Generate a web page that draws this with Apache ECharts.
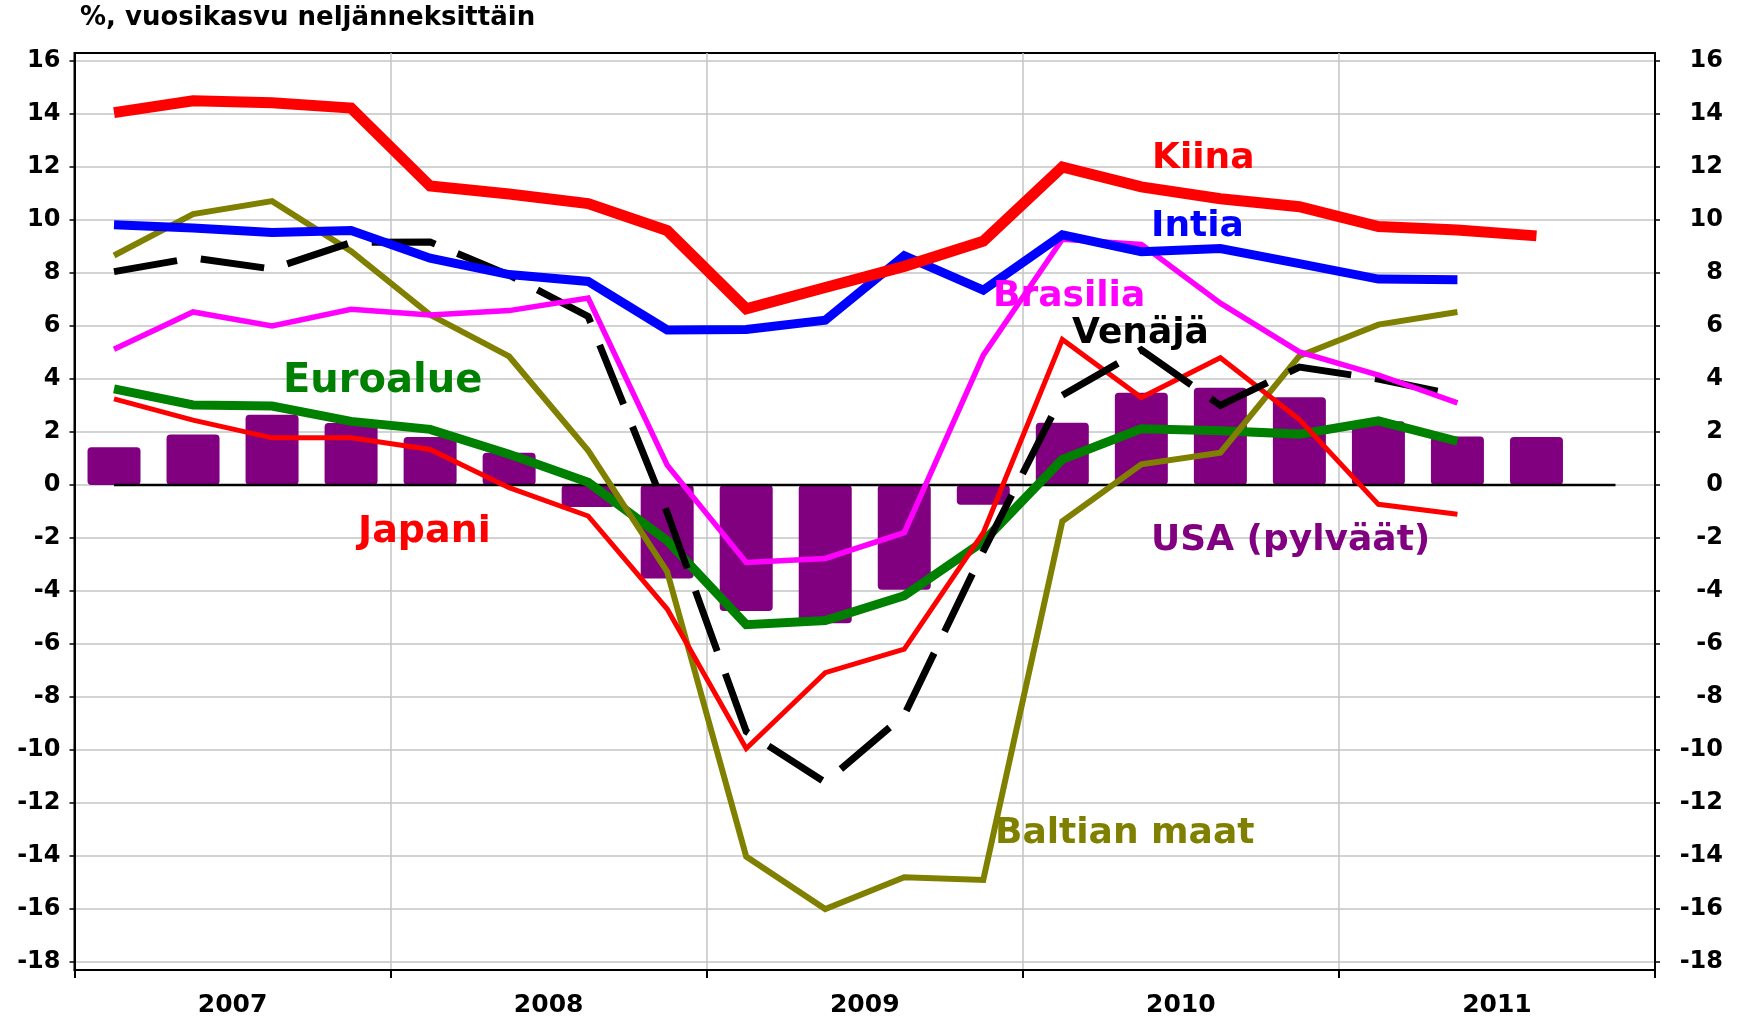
<!DOCTYPE html>
<html>
<head>
<meta charset="utf-8">
<script src="https://cdn.jsdelivr.net/npm/echarts@6/dist/echarts.min.js"></script>
<style>
  html, body { margin: 0; padding: 0; background: #fff; }
  #chart { width: 1741px; height: 1018px; }
</style>
</head>
<body>
<div id="chart"></div>
<script>
// neljännekset (x-akseli) ja vuosiotsikot
const quarters = [
  '2007Q1', '2007Q2', '2007Q3', '2007Q4',
  '2008Q1', '2008Q2', '2008Q3', '2008Q4',
  '2009Q1', '2009Q2', '2009Q3', '2009Q4',
  '2010Q1', '2010Q2', '2010Q3', '2010Q4',
  '2011Q1', '2011Q2', '2011Q3', '2011Q4'
]
const years = ['2007', '2008', '2009', '2010', '2011']
const yTicks = [-18, -16, -14, -12, -10, -8, -6, -4, -2, 0, 2, 4, 6, 8, 10, 12, 14, 16]

// sarjat, % vuosikasvu
const usa = [1.42, 1.91, 2.65, 2.34, 1.81, 1.22, -0.83, -3.53, -4.75, -5.22, -3.95, -0.75, 2.35, 3.48, 3.67, 3.31, 2.41, 1.83, 1.81]
const kiina = [14.05, 14.5, 14.42, 14.22, 11.28, 10.98, 10.62, 9.6, 6.65, 7.45, 8.25, 9.2, 12.0, 11.25, 10.8, 10.5, 9.75, 9.62, 9.4]
const intia = [9.82, 9.7, 9.53, 9.6, 8.56, 7.94, 7.68, 5.85, 5.87, 6.22, 8.65, 7.35, 9.44, 8.8, 8.92, 8.35, 7.77, 7.74]
const brasilia = [5.12, 6.53, 6.0, 6.63, 6.41, 6.58, 7.05, 0.75, -2.92, -2.77, -1.8, 4.9, 9.27, 9.08, 6.86, 5.02, 4.15, 3.1]
const venaja = [8.05, 8.57, 8.15, 9.15, 9.17, 7.92, 6.36, -1.05, -9.3, -11.22, -8.68, -2.5, 3.38, 5.1, 3.0, 4.45, 4.0, 3.38]
const euroalue = [3.63, 3.02, 2.98, 2.4, 2.1, 1.16, 0.1, -2.1, -5.27, -5.11, -4.18, -2.13, 0.97, 2.12, 2.05, 1.92, 2.42, 1.65]
const japani = [3.25, 2.45, 1.78, 1.78, 1.34, -0.1, -1.17, -4.68, -9.94, -7.08, -6.19, -1.8, 5.49, 3.3, 4.8, 2.47, -0.73, -1.1]
const baltia = [8.66, 10.22, 10.71, 8.82, 6.42, 4.85, 1.3, -3.27, -14.02, -16.0, -14.8, -14.9, -1.37, 0.78, 1.22, 4.87, 6.05, 6.53]
const nollaviiva = [0, 0, 0, 0, 0, 0, 0, 0, 0, 0, 0, 0, 0, 0, 0, 0, 0, 0, 0, 0]

const FONT = '"DejaVu Sans", sans-serif'

const chart = echarts.init(document.getElementById('chart'))

function lineSeries(name, data, color, width, type) {
  return {
    name: name,
    type: 'line',
    data: data,
    symbol: 'none',
    xAxisIndex: 0,
    yAxisIndex: 0,
    lineStyle: { color: color, width: width, type: type || 'solid', join: 'miter' }
  }
}

function label(text, color, size, left, top) {
  return {
    type: 'text',
    left: left,
    top: top,
    z: 100,
    style: {
      text: text,
      fill: color,
      font: 'bold ' + size + 'px ' + FONT
    }
  }
}

const yAxisBase = {
  type: 'value',
  min: -18.3,
  max: 16.3,
  axisLine: { show: true, onZero: false, lineStyle: { color: '#000', width: 2 } },
  axisTick: { show: true, customValues: yTicks, length: 5, lineStyle: { color: '#000', width: 1.5 } },
  axisLabel: {
    customValues: yTicks,
    color: '#000',
    fontFamily: FONT,
    fontWeight: 'bold',
    fontSize: 24
  }
}

let option = {
  animation: false,
  backgroundColor: '#fff',
  title: {
    text: '%, vuosikasvu neljänneksittäin',
    left: 80,
    top: 5,
    padding: 0,
    textStyle: { color: '#000', fontFamily: FONT, fontWeight: 'bold', fontSize: 26 }
  },
  grid: {
    left: 74.5,
    right: 86,
    top: 53,
    bottom: 46,
    show: true,
    borderColor: '#000',
    borderWidth: 2
  },
  xAxis: [
    {
      type: 'category',
      data: quarters,
      position: 'bottom',
      boundaryGap: true,
      show: false
    },
    {
      type: 'category',
      data: years,
      position: 'bottom',
      boundaryGap: true,
      axisLine: { show: true, onZero: false, lineStyle: { color: '#000', width: 2 } },
      axisTick: { show: true, length: 8, interval: 0, lineStyle: { color: '#000', width: 2 } },
      splitLine: { show: true, interval: 0, lineStyle: { color: '#c4c4c4', width: 1.5 } },
      axisLabel: {
        interval: 0,
        margin: 23,
        color: '#000',
        fontFamily: FONT,
        fontWeight: 'bold',
        fontSize: 25
      }
    }
  ],
  yAxis: [
    Object.assign({}, yAxisBase, {
      position: 'left',
      splitLine: { show: true, lineStyle: { color: '#c4c4c4', width: 1.5 } },
      axisLabel: Object.assign({}, yAxisBase.axisLabel, { margin: 14 })
    }),
    Object.assign({}, yAxisBase, {
      position: 'right',
      splitLine: { show: false },
      axisLabel: Object.assign({}, yAxisBase.axisLabel, { margin: 68, align: 'right' })
    })
  ],
  series: [
    {
      name: 'USA',
      type: 'bar',
      data: usa,
      xAxisIndex: 0,
      yAxisIndex: 0,
      barWidth: 53,
      itemStyle: { color: '#800080', borderRadius: 4 }
    },
    lineSeries('nolla', nollaviiva, '#000', 2.5),
    lineSeries('Euroalue', euroalue, '#008000', 9),
    lineSeries('Baltian maat', baltia, '#808000', 6),
    lineSeries('Japani', japani, '#ff0000', 5),
    lineSeries('Venäjä', venaja, '#000', 7, [64, 24]),
    lineSeries('Brasilia', brasilia, '#ff00ff', 5.5),
    lineSeries('Intia', intia, '#0000ff', 9),
    lineSeries('Kiina', kiina, '#ff0000', 11)
  ],
  graphic: [
    label('Kiina', '#ff0000', 36, 1152, 141),
    label('Intia', '#0000ff', 36, 1151, 209),
    label('Brasilia', '#ff00ff', 36, 993, 279),
    label('Venäjä', '#000000', 36, 1072, 316),
    label('Euroalue', '#008000', 40, 283, 362),
    label('Japani', '#ff0000', 38, 358, 513),
    label('USA (pylväät)', '#800080', 36, 1151, 523),
    label('Baltian maat', '#808000', 36, 995, 816)
  ]
}

chart.setOption(option)
</script>
</body>
</html>
